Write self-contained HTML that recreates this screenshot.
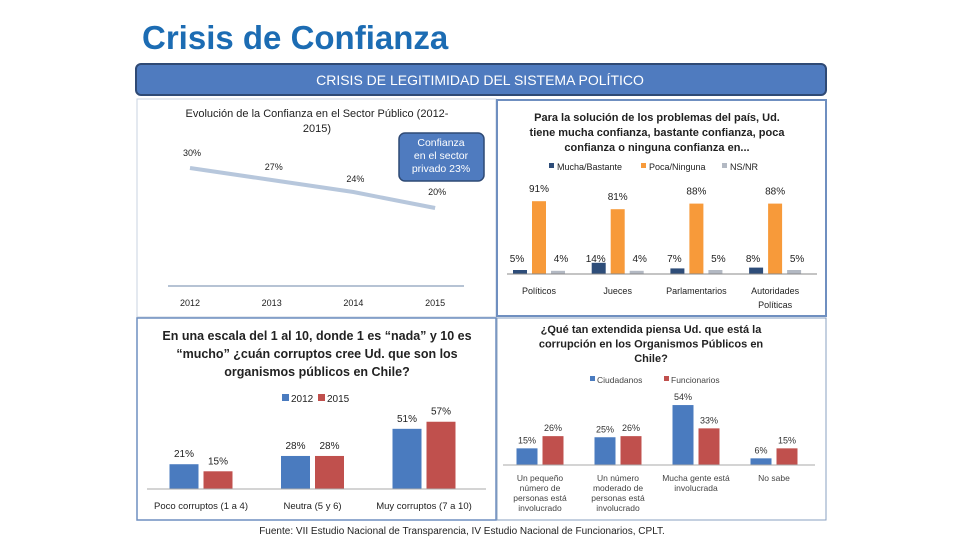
<!DOCTYPE html>
<html><head><meta charset="utf-8"><style>
html,body{margin:0;padding:0;background:#fff;}
svg{display:block;font-family:"Liberation Sans",sans-serif;}
</style></head><body>
<svg id="s" width="960" height="540" viewBox="0 0 960 540" xmlns="http://www.w3.org/2000/svg">
<text x="142" y="49" font-size="33" font-weight="bold" fill="#1c6cb3">Crisis de Confianza</text>
<rect x="136" y="64" width="690" height="31" rx="5" fill="#4f7bbf" stroke="#2f4a75" stroke-width="2"/>
<text x="480" y="85" font-size="14" fill="#fff" text-anchor="middle">CRISIS DE LEGITIMIDAD DEL SISTEMA POLÍTICO</text>
<rect x="137" y="99" width="359" height="218" fill="#fff" stroke="#c9d3e0"/>
<rect x="497" y="100" width="329" height="216" fill="#fff" stroke="#6f8fc0" stroke-width="2"/>
<rect x="137" y="318" width="359" height="202" fill="#fff" stroke="#6f8fc0" stroke-width="1.5"/>
<rect x="497" y="318" width="329" height="202" fill="#fff" stroke="#8aa0c0"/>
<g id="g1"></g><g id="g2"></g><g id="g3"></g><g id="g4"></g>
<text x="462" y="534" font-size="10" text-anchor="middle" fill="#222">Fuente: VII Estudio Nacional de Transparencia, IV Estudio Nacional de Funcionarios, CPLT.</text>
</svg>
<script>
// Chart 1
const years=["2012","2013","2014","2015"];
const trust=[30,27,24,20];
// Chart 2
const cats2=["Políticos","Jueces","Parlamentarios","Autoridades|Políticas"];
const mucha=[5,14,7,8];
const poca=[91,81,88,88];
const nsnr=[4,4,5,5];
// Chart 3
const cats3=["Poco corruptos (1 a 4)","Neutra (5 y 6)","Muy corruptos (7 a 10)"];
const y2012=[21,28,51];
const y2015=[15,28,57];
// Chart 4
const cats4=["Un pequeño|número de|personas está|involucrado","Un número|moderado de|personas está|involucrado","Mucha gente está|involucrada","No sabe"];
const ciud=[15,25,54,6];
const func=[26,26,33,15];

const NS="http://www.w3.org/2000/svg";
function mk(p,tag,a,txt){const e=document.createElementNS(NS,tag);for(const k in a)e.setAttribute(k,a[k]);if(txt!==undefined)e.textContent=txt;p.appendChild(e);return e;}
function lines(p,x,y,str,lh,a){str.split("|").forEach((s,i)=>{const t=mk(p,"text",Object.assign({x:x,y:y+i*lh,"text-anchor":"middle"},a),s);

});}

// ---- Chart 1
const g1=document.getElementById("g1");
lines(g1,317,117,"Evolución de la Confianza en el Sector Público (2012-|2015)",15,{"font-size":"11","fill":"#222"});
const x1=i=>190+i*81.7, y1=v=>168+(30-v)*4;
let pts=trust.map((v,i)=>x1(i)+","+y1(v)).join(" ");
const pl=mk(g1,"polyline",{points:pts,fill:"none",stroke:"#b7c7dc","stroke-width":"4"});


const lo=[-12,-10,-10,-13];
trust.forEach((v,i)=>{const t=mk(g1,"text",{x:x1(i)+2,y:y1(v)+lo[i],"font-size":"9","text-anchor":"middle",fill:"#222"},v+"%");

});
const ax=mk(g1,"line",{x1:168,x2:464,y1:286,y2:286,stroke:"#6d87a8","stroke-width":"1"});


years.forEach((yv,i)=>{const t=mk(g1,"text",{x:x1(i),y:306,"font-size":"9","text-anchor":"middle",fill:"#222"},yv);

});
const co=mk(g1,"rect",{x:399,y:133,width:85,height:48,rx:6,fill:"#4f7bbf",stroke:"#2f4a75","stroke-width":"1.5"});


lines(g1,441,146,"Confianza|en el sector|privado 23%",13,{"font-size":"10.5","fill":"#fff"});

// ---- Chart 2
const g2=document.getElementById("g2");
lines(g2,657,121,"Para la solución de los problemas del país, Ud.|tiene mucha confianza, bastante confianza, poca|confianza o ninguna confianza en...",15,{"font-size":"11","font-weight":"bold","fill":"#222"});
const leg2=[["Mucha/Bastante","#2e4d79",549],["Poca/Ninguna","#f79a3a",641],["NS/NR","#b3b9c3",722]];
leg2.forEach(l=>{const r=mk(g2,"rect",{x:l[2],y:163,width:5,height:5,fill:l[1]});


const t=mk(g2,"text",{x:l[2]+8,y:170,"font-size":"9",fill:"#222"},l[0]);

});
const base2=274, s2=0.8, gx2=i=>539+i*78.7;
const ser2=[[mucha,"#2e4d79",-19],[poca,"#f79a3a",0],[nsnr,"#b3b9c3",19]];
cats2.forEach((c,i)=>{
 ser2.forEach(s=>{const v=s[0][i],h=v*s2,cx=gx2(i)+s[2];
  const r=mk(g2,"rect",{x:cx-7,y:base2-h,width:14,height:h,fill:s[1]});
  
  
  const t=mk(g2,"text",{x:cx+(s[2]<0?-3:s[2]>0?3:0),y:(s[2]===0?base2-h-9:base2-12),"font-size":"10","text-anchor":"middle",fill:"#222"},v+"%");
  
  });
 lines(g2,gx2(i),294,c,14,{"font-size":"9","fill":"#222"});
});
const ax2=mk(g2,"line",{x1:507,x2:817,y1:base2,y2:base2,stroke:"#888"});



// ---- Chart 3
const g3=document.getElementById("g3");
lines(g3,317,340,"En una escala del 1 al 10, donde 1 es “nada” y 10 es|“mucho” ¿cuán corruptos cree Ud. que son los|organismos públicos en Chile?",18,{"font-size":"12.5","font-weight":"bold","fill":"#222"});
[["2012","#4a7bbf",282],["2015","#c0504d",318]].forEach(l=>{const r=mk(g3,"rect",{x:l[2],y:394,width:7,height:7,fill:l[1]});


const t=mk(g3,"text",{x:l[2]+9,y:402,"font-size":"10",fill:"#222"},l[0]);

});
const base3=489,s3=1.18,gx3=i=>201+i*111.5;
cats3.forEach((c,i)=>{
 [[y2012,"#4a7bbf",-17],[y2015,"#c0504d",17]].forEach(s=>{const v=s[0][i],h=v*s3,cx=gx3(i)+s[2];
  const r=mk(g3,"rect",{x:cx-14.5,y:base3-h,width:29,height:h,fill:s[1]});
  
  
  const t=mk(g3,"text",{x:cx,y:base3-h-7,"font-size":"10","text-anchor":"middle",fill:"#222"},v+"%");
  
  });
 const t=mk(g3,"text",{x:gx3(i),y:509,"font-size":"9.5","text-anchor":"middle",fill:"#222"},c);
 
 
});
const ax3=mk(g3,"line",{x1:147,x2:486,y1:base3,y2:base3,stroke:"#aaa"});



// ---- Chart 4
const g4=document.getElementById("g4");
lines(g4,651,333,"¿Qué tan extendida piensa Ud. que está la|corrupción en los Organismos Públicos en|Chile?",14.5,{"font-size":"11","font-weight":"bold","fill":"#222"});
[["Ciudadanos","#4a7bbf",590],["Funcionarios","#c0504d",664]].forEach(l=>{const r=mk(g4,"rect",{x:l[2],y:376,width:5,height:5,fill:l[1]});


const t=mk(g4,"text",{x:l[2]+7,y:383,"font-size":"8.5",fill:"#444"},l[0]);

});
const base4=465,s4=1.11,gx4=i=>540+i*78;
cats4.forEach((c,i)=>{
 [[ciud,"#4a7bbf",-13],[func,"#c0504d",13]].forEach(s=>{const v=s[0][i],h=v*s4,cx=gx4(i)+s[2];
  const r=mk(g4,"rect",{x:cx-10.5,y:base4-h,width:21,height:h,fill:s[1]});
  
  
  const t=mk(g4,"text",{x:cx,y:base4-h-5,"font-size":"9","text-anchor":"middle",fill:"#333"},v+"%");
  
  });
 lines(g4,gx4(i),481,c,10,{"font-size":"8.5","fill":"#444"});
});
const ax4=mk(g4,"line",{x1:503,x2:815,y1:base4,y2:base4,stroke:"#aaa"});


</script>
</body></html>
